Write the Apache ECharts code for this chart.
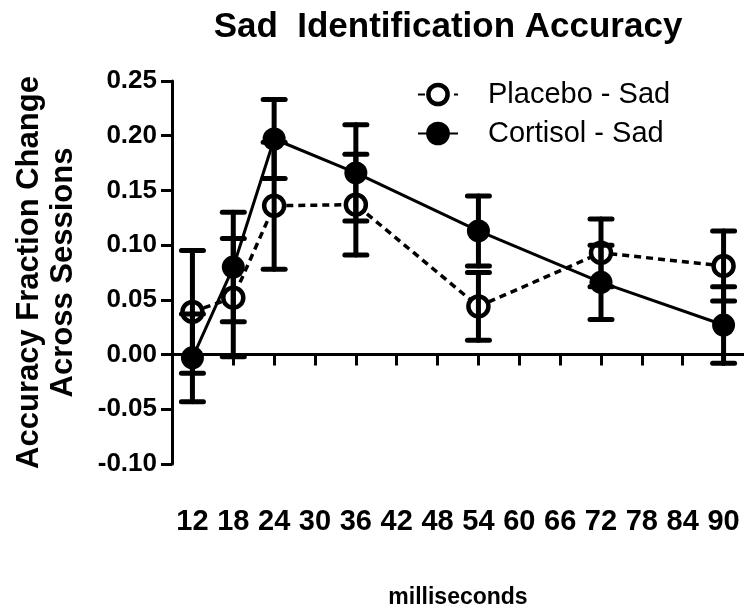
<!DOCTYPE html>
<html>
<head>
<meta charset="utf-8">
<script src="https://cdn.jsdelivr.net/npm/echarts@6/dist/echarts.min.js"></script>
<style>html,body{margin:0;padding:0;background:#fff}#c{width:744px;height:614px}</style>
</head>
<body>
<div id="c"></div>
<script>
var xValues = [12, 18, 24, 36, 54, 72, 90];
var xTicks = [12, 18, 24, 30, 36, 42, 48, 54, 60, 66, 72, 78, 84, 90];
var placeboMean = [0.039, 0.052, 0.136, 0.137, 0.044, 0.093, 0.081];
var placeboSem  = [0.056, 0.054, 0.058, 0.046, 0.031, 0.031, 0.032];
var cortisolMean = [-0.003, 0.080, 0.197, 0.166, 0.113, 0.066, 0.027];
var cortisolSem  = [0.040, 0.050, 0.036, 0.044, 0.032, 0.034, 0.035];

var FONT = '"Liberation Sans", Arial, sans-serif';

function pts(mean) { return xValues.map(function (x, i) { return [x, mean[i]]; }); }
function errs(mean, sem) { return xValues.map(function (x, i) { return [x, mean[i] - sem[i], mean[i] + sem[i]]; }); }

function renderErr(params, api) {
  var x = api.value(0);
  var lo = api.coord([x, api.value(1)]);
  var hi = api.coord([x, api.value(2)]);
  var hw = 11;
  var st = { stroke: '#000', lineWidth: 5, lineCap: 'round' };
  return {
    type: 'group',
    children: [
      { type: 'line', shape: { x1: lo[0], y1: lo[1], x2: hi[0], y2: hi[1] }, style: st },
      { type: 'line', shape: { x1: lo[0] - hw, y1: lo[1], x2: lo[0] + hw, y2: lo[1] }, style: st },
      { type: 'line', shape: { x1: hi[0] - hw, y1: hi[1], x2: hi[0] + hw, y2: hi[1] }, style: st }
    ]
  };
}

var chart = echarts.init(document.getElementById('c'), null, { renderer: 'canvas' });
chart.setOption({
  animation: false,
  backgroundColor: '#fff',
  title: {
    text: 'Sad  Identification Accuracy',
    left: 443, top: 5, textAlign: 'center',
    textStyle: { fontFamily: FONT, fontWeight: 'bold', fontSize: 35, color: '#000' }
  },
  legend: {
    data: ['Placebo - Sad', 'Cortisol - Sad'],
    orient: 'vertical', left: 412, top: 75,
    itemWidth: 40, itemHeight: 24, itemGap: 10,
    itemStyle: { borderWidth: 4.5 },
    textStyle: { fontFamily: FONT, fontSize: 29, color: '#000', padding: [0, 0, 0, 25] }
  },
  grid: { left: 172, right: 0, top: 81, bottom: 150, containLabel: false },
  xAxis: [{
    type: 'value', min: 9, max: 93, position: 'bottom',
    axisLine: { show: true, onZero: true, lineStyle: { color: '#000', width: 3 } },
    axisTick: { show: true, customValues: xTicks, length: 11, lineStyle: { color: '#000', width: 3 } },
    axisLabel: { show: false },
    splitLine: { show: false }
  }, {
    type: 'value', min: 9, max: 93, position: 'bottom',
    axisLine: { show: false, onZero: false },
    axisTick: { show: false },
    axisLabel: { show: true, customValues: xTicks, margin: 43, fontFamily: FONT, fontWeight: 'bold', fontSize: 29, color: '#000' },
    splitLine: { show: false },
    name: 'milliseconds', nameLocation: 'middle', nameGap: 122,
    nameTextStyle: { fontFamily: FONT, fontWeight: 'bold', fontSize: 23, color: '#000' }
  }],
  yAxis: {
    type: 'value', min: -0.1, max: 0.25, interval: 0.05,
    axisLine: { show: true, onZero: false, lineStyle: { color: '#000', width: 3 } },
    axisTick: { show: true, length: 11, lineStyle: { color: '#000', width: 3 } },
    axisLabel: {
      margin: 15, fontFamily: FONT, fontWeight: 'bold', fontSize: 26, color: '#000',
      formatter: function (v) { return Math.abs(v) < 1e-9 ? '0.00' : v.toFixed(2); }
    },
    splitLine: { show: false },
    name: 'Accuracy Fraction Change\nAcross Sessions', nameLocation: 'middle', nameGap: 92, nameRotate: 90,
    nameTextStyle: { fontFamily: FONT, fontWeight: 'bold', fontSize: 31, lineHeight: 34, color: '#000' }
  },
  series: [{
    name: 'Placebo - Sad', type: 'line', xAxisIndex: 0, data: pts(placeboMean), z: 2,
    symbol: 'circle', symbolSize: 20,
    lineStyle: { color: '#000', width: 3.5, type: [7, 5] },
    itemStyle: { color: '#fff', borderColor: '#000', borderWidth: 4.5 }
  }, {
    name: 'Placebo err', type: 'custom', xAxisIndex: 0, data: errs(placeboMean, placeboSem), z: 3,
    encode: { x: 0, y: [1, 2] }, renderItem: renderErr
  }, {
    name: 'Cortisol - Sad', type: 'line', xAxisIndex: 0, data: pts(cortisolMean), z: 4,
    symbol: 'circle', symbolSize: 23,
    lineStyle: { color: '#000', width: 3 },
    itemStyle: { color: '#000', borderColor: '#000', borderWidth: 0 }
  }, {
    name: 'Cortisol err', type: 'custom', xAxisIndex: 0, data: errs(cortisolMean, cortisolSem), z: 5,
    encode: { x: 0, y: [1, 2] }, renderItem: renderErr
  }]
});
</script>
</body>
</html>
